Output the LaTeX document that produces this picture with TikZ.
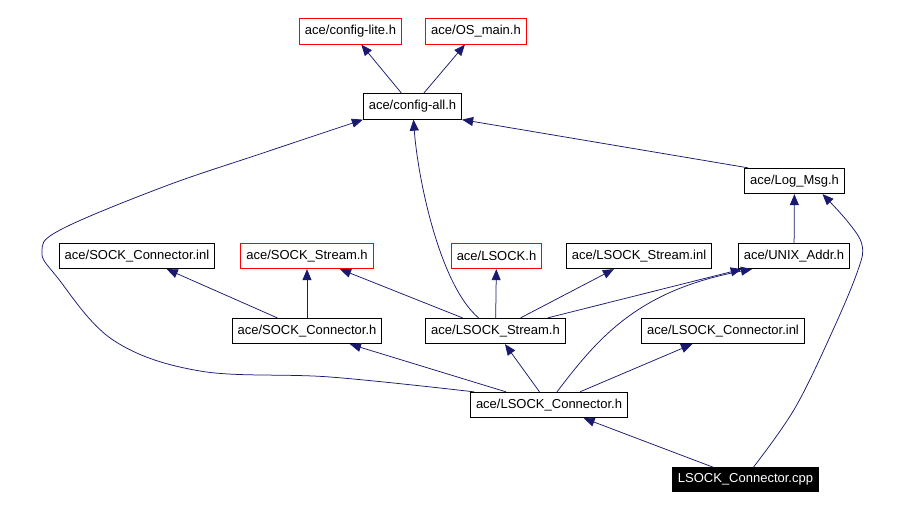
\documentclass[tikz,border=0pt]{standalone}
\usepackage{fontspec}
\setmainfont{Liberation Sans}
\usetikzlibrary{arrows.meta}
\definecolor{edgeblue}{HTML}{191970}
\begin{document}
\begin{tikzpicture}[x=1pt, y=-1pt,
	file/.style={draw=black, line width=0.8pt, rectangle, inner xsep=5.5pt, minimum height=25.5pt, font=\fontsize{13}{15}\selectfont},
	missing/.style={file, draw=red},
	current/.style={file, fill=black, text=white, minimum height=24pt},
	dep/.style={-{Triangle[length=11pt,width=9pt]}, draw=edgeblue, line width=0.75pt}]
		\useasboundingbox (0,0) rectangle (907,510);

		\node[missing] (configLite) at (350.5,31.5) {ace/config-lite.h};
		\node[missing] (osMain) at (476,31.5) {ace/OS\_main.h};
		\node[file] (configAll) at (412.5,106.5) {ace/config-all.h};
		\node[file] (logMsg) at (794.5,181) {ace/Log\_Msg.h};
		\node[file] (sockConnInl) at (137,256) {ace/SOCK\_Connector.inl};
		\node[missing] (sockStream) at (307,256) {ace/SOCK\_Stream.h};
		\node[missing] (lsock) at (496.5,256) {ace/LSOCK.h};
		\node[file] (lsockStreamInl) at (639,256) {ace/LSOCK\_Stream.inl};
		\node[file] (unixAddr) at (794,256) {ace/UNIX\_Addr.h};
		\node[file] (sockConnH) at (307,331) {ace/SOCK\_Connector.h};
		\node[file] (lsockStreamH) at (495.5,331) {ace/LSOCK\_Stream.h};
		\node[file] (lsockConnInl) at (723,331) {ace/LSOCK\_Connector.inl};
		\node[file] (lsockConnH) at (549,405) {ace/LSOCK\_Connector.h};
		\node[current] (lsockConnCpp) at (745.5,479.5) {LSOCK\_Connector.cpp};

		\draw[dep] (configAll) -- (configLite);
		\draw[dep] (configAll) -- (osMain);
		\draw[dep] ([xshift=4pt]logMsg.north west) -- (configAll.south east);
		\draw[dep] (unixAddr) -- (logMsg);
		\draw[dep] (sockConnH) -- (sockConnInl);
		\draw[dep] (sockConnH) -- (sockStream);
		\draw[dep] (lsockStreamH) -- (sockStream);
		\draw[dep] (lsockStreamH) -- (lsock);
		\draw[dep] (lsockStreamH) -- (lsockStreamInl);
		\draw[dep] (lsockStreamH) -- (unixAddr);
		\draw[dep] ([xshift=-17pt]lsockStreamH.north) .. controls (440,285) and (418,180) .. (configAll);
		\draw[dep] (lsockConnH) -- (sockConnH);
		\draw[dep] (lsockConnH) -- (lsockStreamH);
		\draw[dep] (lsockConnH) -- (lsockConnInl);
		\draw[dep] ([xshift=8pt]lsockConnH.north) .. controls (600,335) and (640,290) .. ([xshift=-42pt]unixAddr.south);
		\draw[dep] plot[smooth, tension=0.6] coordinates {([xshift=4pt]lsockConnH.north west) (330,377) (200,371) (113,340) (57,277) (42,252) (60,230) (163,187) (263,153) (configAll.south west)};
		\draw[dep] (lsockConnCpp) -- (lsockConnH);
		\draw[dep] plot[smooth, tension=0.6] coordinates {([xshift=8pt]lsockConnCpp.north) (795,408) (833,330) (858,270) (862,245) (848,222) ([xshift=28pt]logMsg.south)};
	\end{tikzpicture}
\end{document}
